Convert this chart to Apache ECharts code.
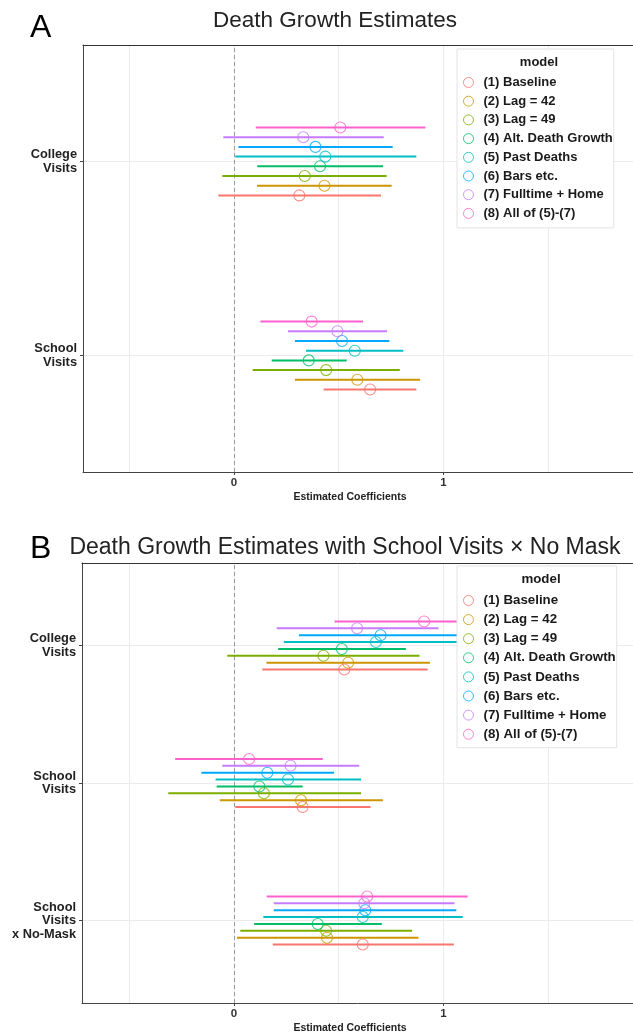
<!DOCTYPE html>
<html><head><meta charset="utf-8">
<script src="https://cdn.jsdelivr.net/npm/echarts@6/dist/echarts.min.js"></script>
<style>html,body{margin:0;padding:0;background:#fff}#c{width:633px;height:1034px}</style>
</head><body><div id="c"></div>
<script>
const models = ['(1) Baseline', '(2) Lag = 42', '(3) Lag = 49', '(4) Alt. Death Growth', '(5) Past Deaths', '(6) Bars etc.', '(7) Fulltime + Home', '(8) All of (5)-(7)'];
const colors = ['#F8766D', '#CD9600', '#7CAE00', '#00BE67', '#00BFC4', '#00A9FF', '#C77CFF', '#FF61CC'];
const xTickLabels = [0, 1];
const xGridValues = [-0.5, 0, 0.5, 1, 1.5];
const catsA = ['School\nVisits', 'College\nVisits'];
const catsB = ['School\nVisits\nx No-Mask', 'School\nVisits', 'College\nVisits'];

// Panel A
const aCollegeEst = [0.312, 0.432, 0.338, 0.411, 0.436, 0.389, 0.331, 0.508];
const aCollegeLo  = [-0.075, 0.110, -0.056, 0.111, 0.006, 0.021, -0.051, 0.104];
const aCollegeHi  = [0.702, 0.753, 0.729, 0.712, 0.871, 0.758, 0.715, 0.914];
const aSchoolEst  = [0.650, 0.589, 0.440, 0.357, 0.577, 0.516, 0.494, 0.371];
const aSchoolLo   = [0.428, 0.291, 0.089, 0.180, 0.344, 0.291, 0.258, 0.126];
const aSchoolHi   = [0.871, 0.889, 0.792, 0.538, 0.809, 0.742, 0.731, 0.616];

// Panel B
const bCollegeEst = [0.527, 0.545, 0.427, 0.515, 0.678, 0.700, 0.588, 0.908];
const bCollegeLo  = [0.135, 0.155, -0.032, 0.211, 0.238, 0.310, 0.204, 0.480];
const bCollegeHi  = [0.925, 0.936, 0.886, 0.821, 1.118, 1.090, 0.977, 1.336];
const bSchoolEst  = [0.328, 0.320, 0.143, 0.121, 0.258, 0.159, 0.270, 0.072];
const bSchoolLo   = [0.006, -0.068, -0.314, -0.083, -0.088, -0.156, -0.056, -0.281];
const bSchoolHi   = [0.652, 0.711, 0.607, 0.328, 0.607, 0.478, 0.598, 0.424];
const bMaskEst    = [0.615, 0.444, 0.440, 0.400, 0.615, 0.627, 0.622, 0.636];
const bMaskLo     = [0.185, 0.014, 0.030, 0.096, 0.140, 0.190, 0.190, 0.156];
const bMaskHi     = [1.050, 0.881, 0.851, 0.706, 1.093, 1.062, 1.053, 1.116];

const FONT = '"Liberation Sans", Arial, Helvetica, sans-serif';
const DODGE = 0.05;
const AXIS_COLOR = '#444';
const GRID_COLOR = '#ebebeb';

// categories bottom-to-top (position 1, 2, 3...)
const panelA = [
  {est: aSchoolEst, lo: aSchoolLo, hi: aSchoolHi},
  {est: aCollegeEst, lo: aCollegeLo, hi: aCollegeHi}
];
const panelB = [
  {est: bMaskEst, lo: bMaskLo, hi: bMaskHi},
  {est: bSchoolEst, lo: bSchoolLo, hi: bSchoolHi},
  {est: bCollegeEst, lo: bCollegeLo, hi: bCollegeHi}
];

function ypos(k, i) { return (k + 1) + (i - 3.5) * DODGE; }

const scatterSeries = [];
const barSeries = [];
function addPanel(panel, xIdx, yIdx) {
  models.forEach((m, i) => {
    scatterSeries.push({
      type: 'scatter', name: m, xAxisIndex: xIdx, yAxisIndex: yIdx, z: 3,
      symbol: 'circle', symbolSize: 11,
      itemStyle: {color: 'rgba(255,255,255,0)', borderColor: colors[i], borderWidth: 1.1},
      emphasis: {disabled: true}, silent: true,
      data: panel.map((c, k) => [c.est[i], ypos(k, i)])
    });
    const s = {
      type: 'custom', name: m, xAxisIndex: xIdx, yAxisIndex: yIdx, z: 2, silent: true,
      encode: {x: [0, 1], y: 2},
      data: panel.map((c, k) => [c.lo[i], c.hi[i], ypos(k, i)]),
      renderItem: (params, api) => {
        const p1 = api.coord([api.value(0), api.value(2)]);
        const p2 = api.coord([api.value(1), api.value(2)]);
        return {type: 'line', shape: {x1: p1[0], y1: p1[1], x2: p2[0], y2: p2[1]},
                style: {stroke: colors[i], lineWidth: 2}};
      }
    };
    if (i === 0) {
      s.markLine = {silent: true, symbol: 'none', label: {show: false}, z: 1,
        lineStyle: {type: [4, 3], color: '#9a9a9a', width: 1},
        data: [{xAxis: 0}]};
    }
    barSeries.push(s);
  });
}
addPanel(panelA, 0, 0);
addPanel(panelB, 2, 1);

function xAxes(gridIndex, min, max) {
  return [
    {type: 'value', gridIndex, min, max, position: 'bottom',
     axisLine: {show: true, onZero: false, lineStyle: {color: AXIS_COLOR, width: 1}},
     axisTick: {show: true, length: 3, customValues: xTickLabels, lineStyle: {color: AXIS_COLOR}},
     axisLabel: {customValues: xTickLabels, margin: 5, fontSize: 11.5, fontWeight: 'bold', color: '#333', fontFamily: FONT,
                 formatter: v => String(v)},
     splitLine: {show: false}},
    {type: 'value', gridIndex, min, max, position: 'top',
     axisLine: {show: true, onZero: false, lineStyle: {color: '#333', width: 1}},
     axisLabel: {show: false},
     axisTick: {show: false, customValues: xGridValues},
     splitLine: {show: true, lineStyle: {color: GRID_COLOR, width: 1}}}
  ];
}
function yAxis(gridIndex, cats) {
  const vals = cats.map((c, k) => k + 1);
  return {type: 'value', gridIndex, min: 0.4, max: cats.length + 0.6,
    axisLine: {show: true, onZero: false, lineStyle: {color: AXIS_COLOR, width: 1}},
    axisTick: {show: true, length: 3, customValues: vals, lineStyle: {color: AXIS_COLOR}},
    axisLabel: {customValues: vals, margin: 6, fontSize: 12.8, lineHeight: 13.5, fontWeight: 'bold',
                color: '#222', fontFamily: FONT, align: 'right',
                formatter: v => cats[Math.round(v) - 1]},
    splitLine: {show: true, lineStyle: {color: GRID_COLOR, width: 1}}};
}

// 0 at x=234, 1 at x=443.3 (209.3 px per unit); panels run to the right edge of the page
const xA = xAxes(0, -0.7214, 1.906);
const xB = xAxes(1, -0.7262, 1.906);

function legend(top, pad, fs, gap) {
  return {left: 457, top, orient: 'vertical', data: models, padding: pad,
    itemWidth: 20, itemHeight: 10, itemGap: gap, selectedMode: false,
    backgroundColor: '#fff', borderColor: '#e3e3e3', borderWidth: 1, borderRadius: 0,
    itemStyle: {borderWidth: 1},
    textStyle: {fontFamily: FONT, fontWeight: 'bold', fontSize: fs, color: '#1a1a1a'}};
}

function txt(text, x, y, size, weight, color, align) {
  return {type: 'text', x, y, z: 100, silent: true,
    style: {text, fontSize: size, fontWeight: weight, fontFamily: FONT, fill: color,
            align: align || 'center', textAlign: align || 'center',
            verticalAlign: 'middle', textVerticalAlign: 'middle'}};
}

const chart = echarts.init(document.getElementById('c'), null, {renderer: 'canvas'});
chart.setOption({
  animation: false,
  backgroundColor: '#fff',
  grid: [
    {left: 83, top: 45, right: 0, height: 427, show: false},
    {left: 82, top: 563, right: 0, height: 440, show: false}
  ],
  xAxis: [...xA, ...xB],
  yAxis: [yAxis(0, catsA), yAxis(1, catsB)],
  legend: [legend(49, [27, 1, 8, 6], 13, 5.7), legend(566, [28, 1, 7, 6], 13.3, 6.1)],
  graphic: {elements: [
    txt('A', 30, 28.5, 32, 'normal', '#000', 'left'),
    txt('Death Growth Estimates', 335, 20.5, 22.5, 'normal', '#222'),
    txt('B', 30, 549, 32, 'normal', '#000', 'left'),
    txt('Death Growth Estimates with School Visits \u00d7 No Mask', 345, 548, 23, 'normal', '#222'),
    txt('Estimated Coefficients', 350, 497, 10.5, 'bold', '#222'),
    txt('Estimated Coefficients', 350, 1028, 10.5, 'bold', '#222'),
    txt('model', 539, 62, 13, 'bold', '#1a1a1a'),
    txt('model', 541, 579, 13.3, 'bold', '#1a1a1a')
  ]},
  series: [...scatterSeries, ...barSeries]
});
</script></body></html>
